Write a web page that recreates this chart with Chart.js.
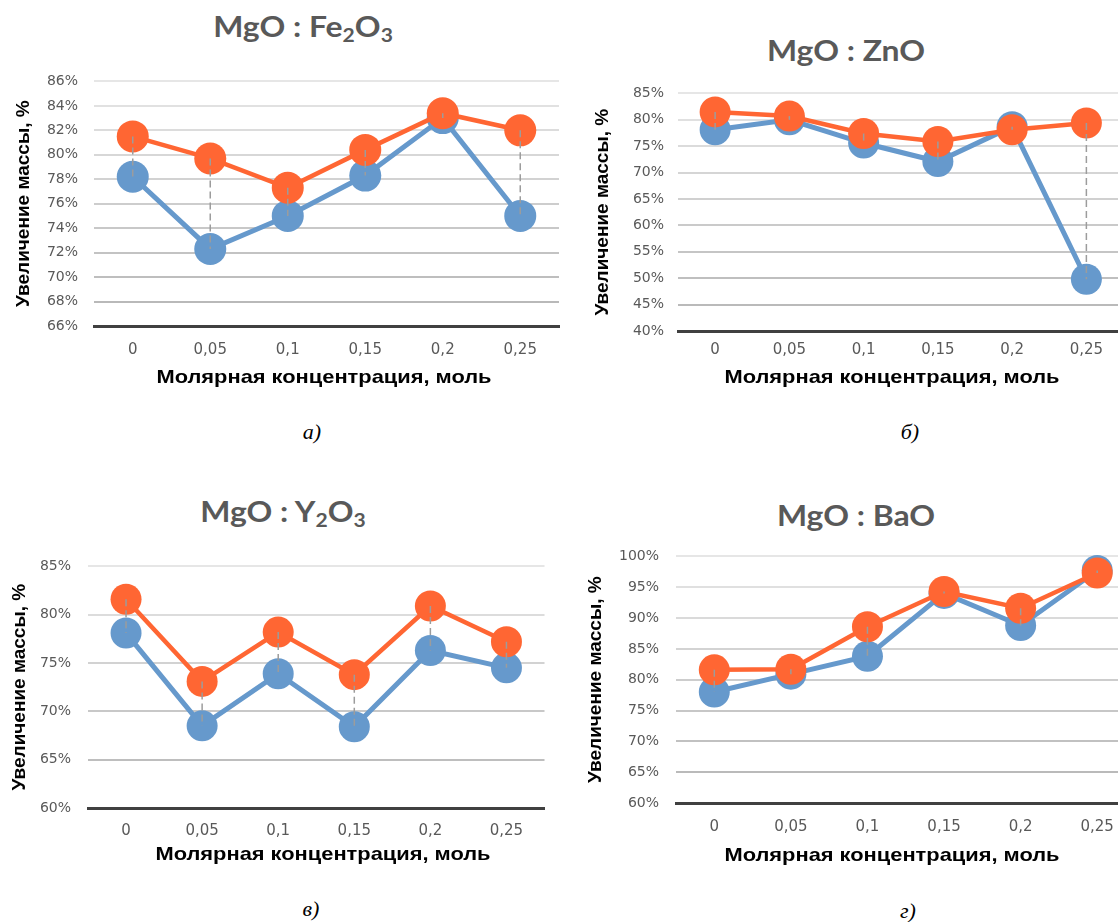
<!DOCTYPE html>
<html>
<head>
<meta charset="utf-8">
<script src="https://cdn.jsdelivr.net/npm/chart.js@4.4.1/dist/chart.umd.min.js"></script>
<style>
  html, body { margin: 0; padding: 0; background: #fff; width: 1118px; height: 922px; overflow: hidden; }
  canvas { position: absolute; }
  .title { position: absolute; transform: translateX(-50%) scaleX(1.14); white-space: nowrap;
           font-family: Lato, "Open Sans", sans-serif; font-weight: bold; font-size: 28px; color: #595959; }
  .title sub { font-size: 0.66em; vertical-align: -0.28em; }
  .cap { position: absolute; transform: translateX(-50%); font-family: "Liberation Serif", serif;
         font-style: italic; font-size: 22px; color: #000; }
</style>
</head>
<body>
<div class="title" style="left:303px; top:9px">MgO : Fe<sub>2</sub>O<sub>3</sub></div>
<div class="title" style="left:846px; top:33px">MgO : ZnO</div>
<div class="title" style="left:283px; top:494px">MgO : Y<sub>2</sub>O<sub>3</sub></div>
<div class="title" style="left:856px; top:498px">MgO : BaO</div>

<canvas id="chartA"></canvas>
<canvas id="chartB"></canvas>
<canvas id="chartC"></canvas>
<canvas id="chartD"></canvas>

<div class="cap" style="left:312px; top:419px">а)</div>
<div class="cap" style="left:910px; top:419px">б)</div>
<div class="cap" style="left:311px; top:896px">в)</div>
<div class="cap" style="left:908px; top:898px">г)</div>

<script>
// concentrations, mol
var labels = ["0", "0,05", "0,1", "0,15", "0,2", "0,25"];

// MgO : Fe2O3
var fe2o3Blue = [78.2, 72.3, 75.0, 78.3, 83.0, 75.0];
var fe2o3Orange = [81.5, 79.7, 77.3, 80.4, 83.4, 82.0];
// MgO : ZnO
var znoBlue = [78.1, 80.0, 75.6, 72.1, 78.7, 49.8];
var znoOrange = [81.5, 80.7, 77.4, 75.9, 78.1, 79.4];
// MgO : Y2O3
var y2o3Blue = [78.1, 68.5, 73.9, 68.4, 76.3, 74.5];
var y2o3Orange = [81.6, 73.1, 78.2, 73.8, 80.9, 77.2];
// MgO : BaO
var baoBlue = [78.0, 80.9, 83.8, 94.0, 88.8, 97.7];
var baoOrange = [81.6, 81.7, 88.6, 94.3, 91.6, 97.3];

var yTitle = "Увеличение массы, %";
var xTitle = "Молярная концентрация, моль";

var blue = "#6699cc";
var orange = "#ff6633";

// dashed high-low lines between the two series
var dropLines = {
  id: "dropLines",
  afterDatasetsDraw: function (chart) {
    var ctx = chart.ctx;
    var p1 = chart.getDatasetMeta(0).data;
    var p2 = chart.getDatasetMeta(1).data;
    ctx.save();
    ctx.setLineDash([7, 4]);
    ctx.strokeStyle = "#9c9c9c";
    ctx.lineWidth = 1.5;
    for (var i = 0; i < p1.length; i++) {
      ctx.beginPath();
      ctx.moveTo(p1[i].x, p1[i].y);
      ctx.lineTo(p2[i].x, p2[i].y);
      ctx.stroke();
    }
    ctx.restore();
  },
};

function gridColor(c) {
  var n = c.scale.ticks.length - 1;
  if (c.index === 0) return "rgba(0,0,0,0)";
  var t = c.index / n;
  var g = Math.round(180 + t * 50);
  return "rgb(" + g + "," + g + "," + g + ")";
}

// area: plot area in page px; yTx: y title centre x; xTx/xTy: x title centre
function makeChart(id, blueData, orangeData, yMin, yMax, yStep, area, yTx, xTx, xTy, yLabRight, xLabY, r) {
  var canvas = document.getElementById(id);
  var boxX = yTx - 14;
  var boxY = area.t - 20;
  var boxR = area.r + 17; // chart.js keeps half of the last label as right padding
  var boxB = xTy + 14;
  canvas.width = boxR - boxX;
  canvas.height = boxB - boxY;
  canvas.style.left = boxX + "px";
  canvas.style.top = boxY + "px";

  var yW = area.l - boxX;
  var xH = boxB - area.b;

  // x title, a little stretched like the original figure
  var xTitlePlugin = {
    id: "xTitle",
    afterDraw: function (chart) {
      var ctx = chart.ctx;
      ctx.save();
      ctx.translate(xTx - boxX, xTy - boxY);
      ctx.scale(1.15, 1);
      ctx.font = 'bold 19px "Liberation Sans"';
      ctx.fillStyle = "#000";
      ctx.textAlign = "center";
      ctx.textBaseline = "middle";
      ctx.fillText(xTitle, 0, 0);
      ctx.restore();
    },
  };

  new Chart(canvas, {
    type: "line",
    data: {
      labels: labels,
      datasets: [
        {
          data: orangeData,
          borderColor: orange,
          backgroundColor: orange,
          borderWidth: 4.5,
          pointRadius: r,
          pointHoverRadius: r,
          pointBorderWidth: 0,
          order: 1,
          clip: false,
        },
        {
          data: blueData,
          borderColor: blue,
          backgroundColor: blue,
          borderWidth: 5,
          pointRadius: r,
          pointHoverRadius: r,
          pointBorderWidth: 0,
          order: 2,
          clip: false,
        },
      ],
    },
    options: {
      responsive: false,
      animation: false,
      devicePixelRatio: 1,
      layout: { padding: { top: 18, left: 0, right: 0, bottom: 0 } },
      plugins: { legend: { display: false }, tooltip: { enabled: false } },
      scales: {
        x: {
          type: "category",
          offset: true,
          grid: {
            display: true,
            drawOnChartArea: false,
            drawTicks: true,
            tickLength: xLabY - area.b - 9,
            color: "rgba(0,0,0,0)",
          },
          border: { display: true, color: "#404040", width: 3 },
          ticks: {
            padding: 0,
            color: "#595959",
            font: { family: "DejaVu Sans", size: 15 },
          },
          title: { display: false },
          afterFit: function (s) { s.height = xH; },
        },
        y: {
          min: yMin,
          max: yMax,
          grid: { color: gridColor, lineWidth: 2, drawTicks: false },
          border: { display: false },
          ticks: {
            stepSize: yStep,
            padding: area.l - yLabRight,
            color: "#595959",
            font: { family: "DejaVu Sans", size: 14 },
            callback: function (v) { return v + "%"; },
          },
          title: {
            display: true,
            text: yTitle,
            color: "#000",
            font: { family: "Liberation Sans", size: 19, weight: "bold" },
            padding: { top: 2, bottom: 0 },
          },
          afterFit: function (s) { s.width = yW; },
        },
      },
    },
    plugins: [dropLines, xTitlePlugin],
  });
}

makeChart("chartA", fe2o3Blue, fe2o3Orange, 66, 86, 2, { l: 94, t: 77, r: 558, b: 326 }, 24, 324, 378, 78, 350, 16);
makeChart("chartB", znoBlue, znoOrange, 40, 85, 5, { l: 678, t: 91, r: 1122, b: 331 }, 603, 892, 378, 664, 350, 15.5);
makeChart("chartC", y2o3Blue, y2o3Orange, 60, 85, 5, { l: 88, t: 561, r: 543, b: 808 }, 20, 323, 855, 71, 831, 15.5);
makeChart("chartD", baoBlue, baoOrange, 60, 100, 5, { l: 676, t: 551, r: 1134, b: 803 }, 596, 892, 856, 659, 827, 15.5);
</script>
</body>
</html>
